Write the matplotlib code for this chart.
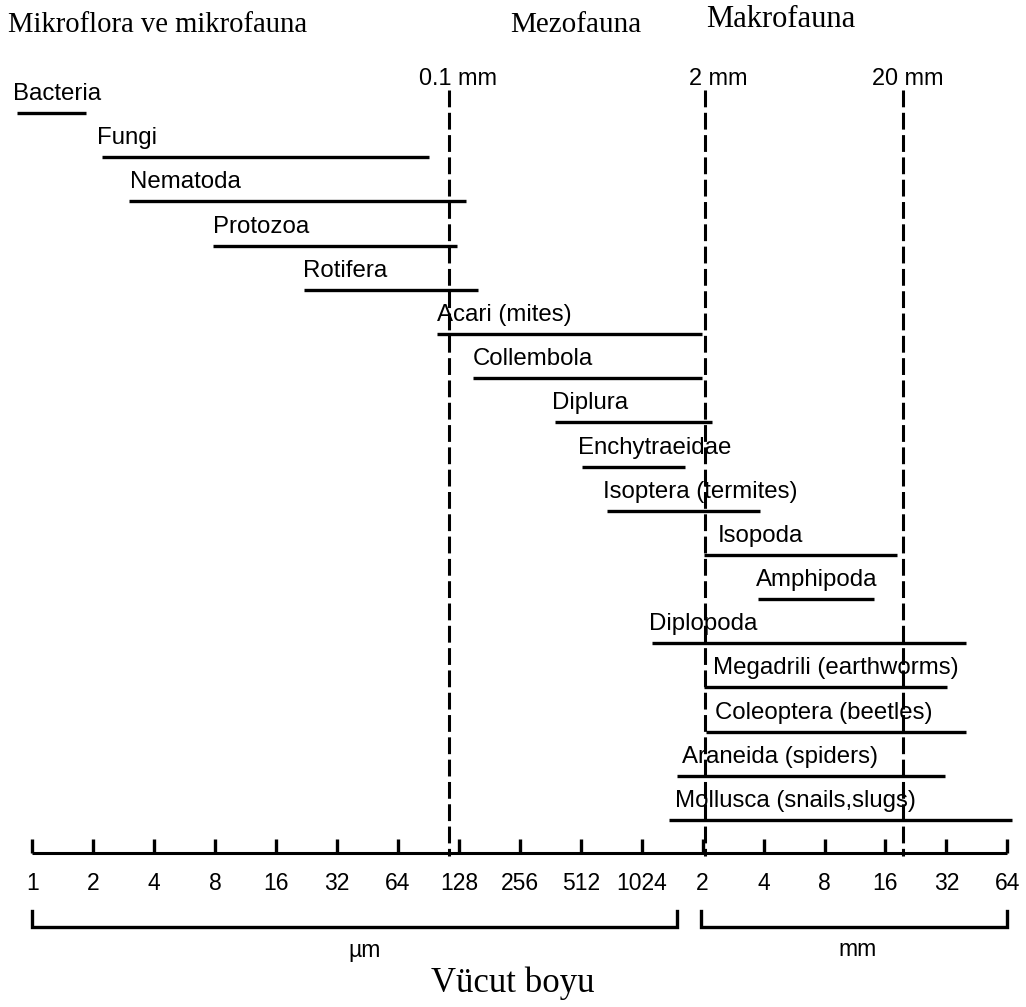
import matplotlib
matplotlib.use("Agg")
import matplotlib.pyplot as plt
from matplotlib.transforms import offset_copy
from matplotlib import font_manager

# ---- data (body size ranges, in micrometres) ----
groups = ["Bacteria", "Fungi", "Nematoda", "Protozoa", "Rotifera",
          "Acari (mites)", "Collembola", "Diplura", "Enchytraeidae",
          "Isoptera (termites)", "Isopoda", "Amphipoda", "Diplopoda",
          "Megadrili (earthworms)", "Coleoptera (beetles)",
          "Araneida (spiders)", "Mollusca (snails,slugs)"]
size_min = [0.84, 2.2, 3.0, 7.8, 22, 100, 150, 382, 519, 690,
            2080, 3850, 1150, 2080, 2120, 1530, 1400]
size_max = [1.84, 91, 139, 125, 159, 2030, 2030, 2270, 1675, 3930,
            18700, 14350, 40900, 33000, 40900, 32300, 69300]

tick_values = [1, 2, 4, 8, 16, 32, 64, 128, 256, 512, 1024,
               2048, 4096, 8192, 16384, 32768, 65536]
tick_labels = ["1", "2", "4", "8", "16", "32", "64", "128", "256", "512",
               "1024", "2", "4", "8", "16", "32", "64"]

class_limits = [115, 2110, 20000]
class_limit_labels = ["0.1 mm", "2 mm", "20 mm"]
zone_names = ["Mikroflora ve mikrofauna", "Mezofauna", "Makrofauna"]
unit_names = ["µm", "mm"]
unit_ranges = [(1, 1530), (2000, 65536)]
axis_title = "Vücut boyu"

# ---- styling / layout ----
_names = {f.name for f in font_manager.fontManager.ttflist}
if "Liberation Sans Narrow" in _names:
    SANS = ["Liberation Sans Narrow", "DejaVu Sans"]
    k = 1.0
else:
    SANS = ["Liberation Sans", "DejaVu Sans"]
    k = 0.845
SERIF = ["Liberation Serif", "DejaVu Serif"]
label_dx = [-4, -5, 1, 0, -1, 0, 0, -3, -4, -4, 14, -2, -3, 9, 9, 5, 6]
limit_dx = [9, 13, 5]

W, H = 1026, 1007
PX0, PPD = 32.3, 60.94          # pixel of 1 µm, pixels per doubling


def px(p):
    return 2 ** ((p - PX0) / PPD)


fig = plt.figure(figsize=(W / 100, H / 100), dpi=100)
ax = fig.add_axes([0, 0, 1, 1])
ax.set_xscale("log", base=2)
ax.set_xlim(px(0), px(W))
ax.set_ylim(H, 0)
ax.axis("off")

row0, drow = 113, 44.19
axis_y = 853

# bars + labels
for i, (g, a, b) in enumerate(zip(groups, size_min, size_max)):
    y = row0 + drow * i
    ax.plot([a, b], [y, y], color="black", lw=2.4, solid_capstyle="butt")
    tr = offset_copy(ax.transData, fig=fig, x=label_dx[i], y=0, units="dots")
    ax.text(a, y - 13, g, transform=tr, family=SANS, fontsize=20.5 * k,
            ha="left", va="baseline", color="black")

# dashed class limits
for v, lab, dx in zip(class_limits, class_limit_labels, limit_dx):
    ax.plot([v, v], [90, 856], color="black", lw=2.2,
            linestyle=(0, (5.5, 1.8)))
    ax.text(v, 85, lab, family=SANS, fontsize=20 * k, ha="center",
            va="baseline",
            transform=offset_copy(ax.transData, fig=fig, x=dx, y=0, units="dots"))

# zone headers
ax.text(px(8), 32, zone_names[0], family=SERIF, fontsize=20.6,
        ha="left", va="baseline")
ax.text(px(510), 32, zone_names[1], family=SERIF, fontsize=21,
        ha="left", va="baseline")
ax.text(px(706), 27, zone_names[2], family=SERIF, fontsize=22,
        ha="left", va="baseline")

# axis line and ticks
ax.plot([tick_values[0], tick_values[-1]], [axis_y, axis_y], color="black",
        lw=2.2, solid_capstyle="butt")
for v, lab in zip(tick_values, tick_labels):
    ax.plot([v, v], [839, axis_y], color="black", lw=2.4, solid_capstyle="butt")
    ax.text(v, 884, lab, family=SANS, fontsize=19.5 * k, ha="center", va="center")

# unit brackets
for (a, b), name in zip(unit_ranges, unit_names):
    ax.plot([a, a, b, b], [911, 927, 927, 911], color="black", lw=2.4,
            solid_joinstyle="miter")
ax.text(px(365), 950, unit_names[0], family=SANS, fontsize=19.5 * k,
        ha="center", va="center")
ax.text(px(858), 950, unit_names[1], family=SANS, fontsize=19.5 * k,
        ha="center", va="center")

ax.text(px(513), 983, axis_title, family=SERIF, fontsize=25,
        ha="center", va="center")

fig.savefig("out.png", dpi=100, facecolor="white")
